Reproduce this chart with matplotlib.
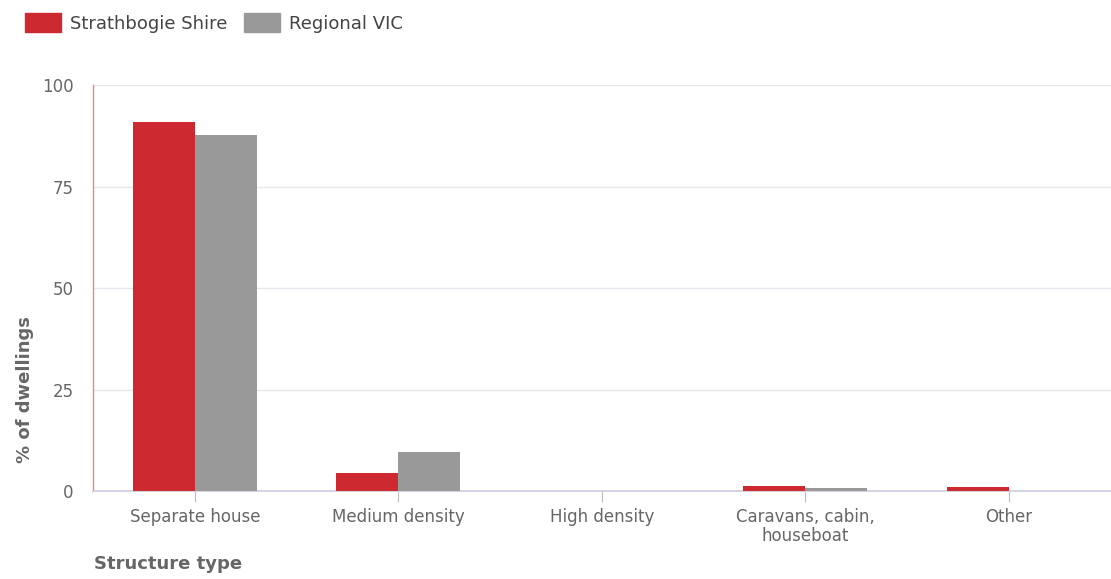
import numpy as np
import matplotlib.pyplot as plt
import matplotlib as mpl
from matplotlib.patches import Patch

mpl.rcParams['font.family'] = 'DejaVu Sans'

categories = ["Separate house", "Medium density", "High density",
              "Caravans, cabin,\nhouseboat", "Other"]
strathbogie = [90.9, 4.5, 0.0, 1.3, 1.1]
regional_vic = [87.7, 9.5, 0.0, 0.7, 0.0]
series_names = ["Strathbogie Shire", "Regional VIC"]
yticks = [0, 25, 50, 75, 100]

red = '#cc2a30'
grey = '#999999'
text_col = '#666666'

fig = plt.figure(figsize=(11.11, 5.79), dpi=100)
ax = fig.add_axes([0.0837, 0.152, 0.916, 0.701])

x = np.arange(len(categories))
w = 0.305
ax.bar(x - w / 2, strathbogie, w, color=red, zorder=3)
ax.bar(x + w / 2, regional_vic, w, color=grey, zorder=3)

ax.set_xlim(-0.5, len(categories) - 0.5)
ax.set_ylim(0, 100)
ax.set_yticks(yticks)
ax.set_yticklabels([str(t) for t in yticks])
ax.set_xticks(x)
ax.set_xticklabels(categories, linespacing=1.1)

ax.grid(axis='y', color='#e6e6ee', linewidth=1, zorder=0)
for side in ['top', 'right']:
    ax.spines[side].set_visible(False)
ax.spines['left'].set_color('#e08a8d')
ax.spines['left'].set_linewidth(1)
ax.spines['bottom'].set_color('#ccccdd')
ax.spines['bottom'].set_linewidth(1.2)

ax.tick_params(axis='y', length=0, pad=14, labelsize=12, labelcolor=text_col)
ax.tick_params(axis='x', length=8, color='#bbbbbb', pad=4, labelsize=12,
               labelcolor=text_col)

ax.set_ylabel("% of dwellings", fontsize=13, fontweight='bold',
              color=text_col)
ax.yaxis.set_label_coords(-0.058, 0.25)
fig.text(0.085, 0.017, "Structure type", fontsize=13, fontweight='bold',
         color=text_col)

handles = [Patch(color=red), Patch(color=grey)]
fig.legend(handles, series_names, loc='upper left', bbox_to_anchor=(0.008, 1.005),
           ncol=2, frameon=False, fontsize=13, handlelength=2.0,
           handleheight=1.25, handletextpad=0.5, columnspacing=0.9,
           labelcolor='#444444')

fig.savefig('out.png', dpi=100, facecolor='white')
